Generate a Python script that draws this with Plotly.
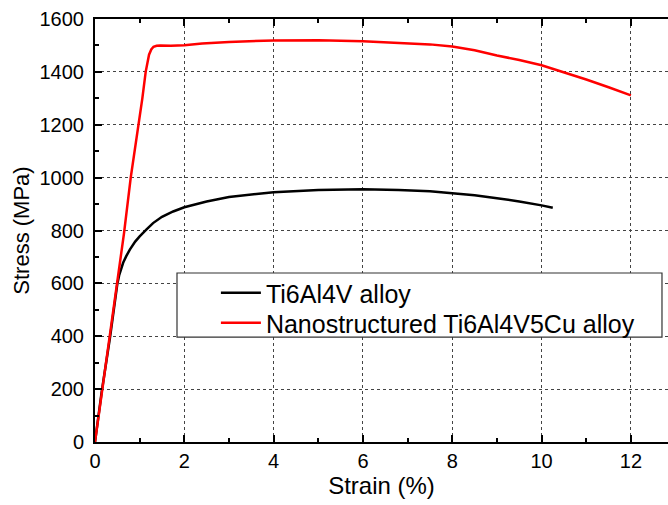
import plotly.graph_objects as go

# Ti6Al4V alloy (black)
strain_ti64 = [0, 0.15, 0.34, 0.45, 0.5, 0.54, 0.58, 0.63, 0.7, 0.78, 0.9, 1.0, 1.16, 1.3, 1.5, 1.75, 2.0, 2.5,
               3.0, 3.5, 4.0, 5.0, 6.0, 6.8, 7.5, 8.0, 8.5, 9.0, 9.5, 10.0, 10.25]
stress_ti64 = [0, 190, 400, 545, 598, 630, 655, 678, 703, 728, 758, 778, 805, 828, 852, 872, 888, 910,
               927, 937, 945, 953, 956, 953, 948, 941, 933, 922, 910, 895, 886]

# Nanostructured Ti6Al4V5Cu alloy (red)
strain_cu = [0, 0.25, 0.5, 0.65, 0.8, 0.98, 1.06, 1.135, 1.17, 1.21, 1.26, 1.31, 1.38, 1.46, 1.7, 2.0,
             2.4, 3.0, 4.0, 5.0, 6.0, 7.0, 7.5, 8.0, 8.5, 9.0, 9.5, 10.0, 10.5, 11.0, 11.5, 12.0]
stress_cu = [0, 300, 600, 790, 1000, 1200, 1300, 1400, 1435, 1465, 1485, 1495, 1499, 1500, 1499, 1501,
             1507, 1513, 1519, 1520, 1516, 1509, 1504, 1496, 1482, 1462, 1445, 1425, 1399, 1371, 1342, 1311]

series_names = ["Ti6Al4V alloy", "Nanostructured Ti6Al4V5Cu alloy"]
x_ticks = [0, 2, 4, 6, 8, 10, 12]
y_ticks = [0, 200, 400, 600, 800, 1000, 1200, 1400, 1600]

FONT = "Liberation Sans, Arial, sans-serif"

fig = go.Figure()
fig.add_trace(go.Scatter(x=strain_ti64, y=stress_ti64, mode="lines", name=series_names[0],
                         line=dict(color="black", width=2.5), legend="legend"))
fig.add_trace(go.Scatter(x=strain_cu, y=stress_cu, mode="lines", name=series_names[1],
                         line=dict(color="#ff0000", width=2.5), legend="legend2"))

grid = dict(showgrid=True, gridcolor="#444444", gridwidth=1, griddash="3px,3px")
fig.update_xaxes(range=[0, 12.83], tickvals=x_ticks, ticks="inside", ticklen=7, tickwidth=1.5,
                 tickcolor="black", showline=True, linecolor="black", linewidth=2, mirror="ticks",
                 minor=dict(dtick=1, ticks="inside", ticklen=4, tickcolor="black", showgrid=False),
                 tickfont=dict(family=FONT, size=20, color="black"), automargin=False,
                 title=dict(text="Strain (%)", font=dict(family=FONT, size=24, color="black"), standoff=5),
                 zeroline=False, **grid)
fig.update_yaxes(range=[0, 1600], tickvals=y_ticks, ticks="inside", ticklen=7, tickwidth=1.5,
                 tickcolor="black", showline=True, linecolor="black", linewidth=2, mirror=False,
                 minor=dict(dtick=100, ticks="inside", ticklen=4, tickcolor="black", showgrid=False),
                 tickfont=dict(family=FONT, size=20, color="black"), ticklabelstandoff=5, automargin=False,
                 title=dict(text="Stress (MPa)", font=dict(family=FONT, size=22, color="black"), standoff=4),
                 zeroline=False, **grid)

# legend frame
fig.add_shape(type="rect", xref="paper", yref="paper", x0=0.1431, x1=0.9895, y0=0.248, y1=0.3995,
              line=dict(color="#333333", width=1.2), fillcolor="white", layer="above")

leg_common = dict(xanchor="left", yanchor="middle", bgcolor="rgba(0,0,0,0)", borderwidth=0,
                  font=dict(family=FONT, size=25, color="black"), itemwidth=40)
fig.update_layout(
    width=668, height=505,
    margin=dict(l=95, r=0, t=19, b=63),
    plot_bgcolor="white", paper_bgcolor="white",
    showlegend=True,
    legend=dict(x=0.211, y=0.3522, **leg_common),
    legend2=dict(x=0.211, y=0.2813, **leg_common),
)

fig.write_html("out.html", config={"displayModeBar": False},
               post_script="document.body.style.margin='0';document.body.style.overflow='hidden';")
